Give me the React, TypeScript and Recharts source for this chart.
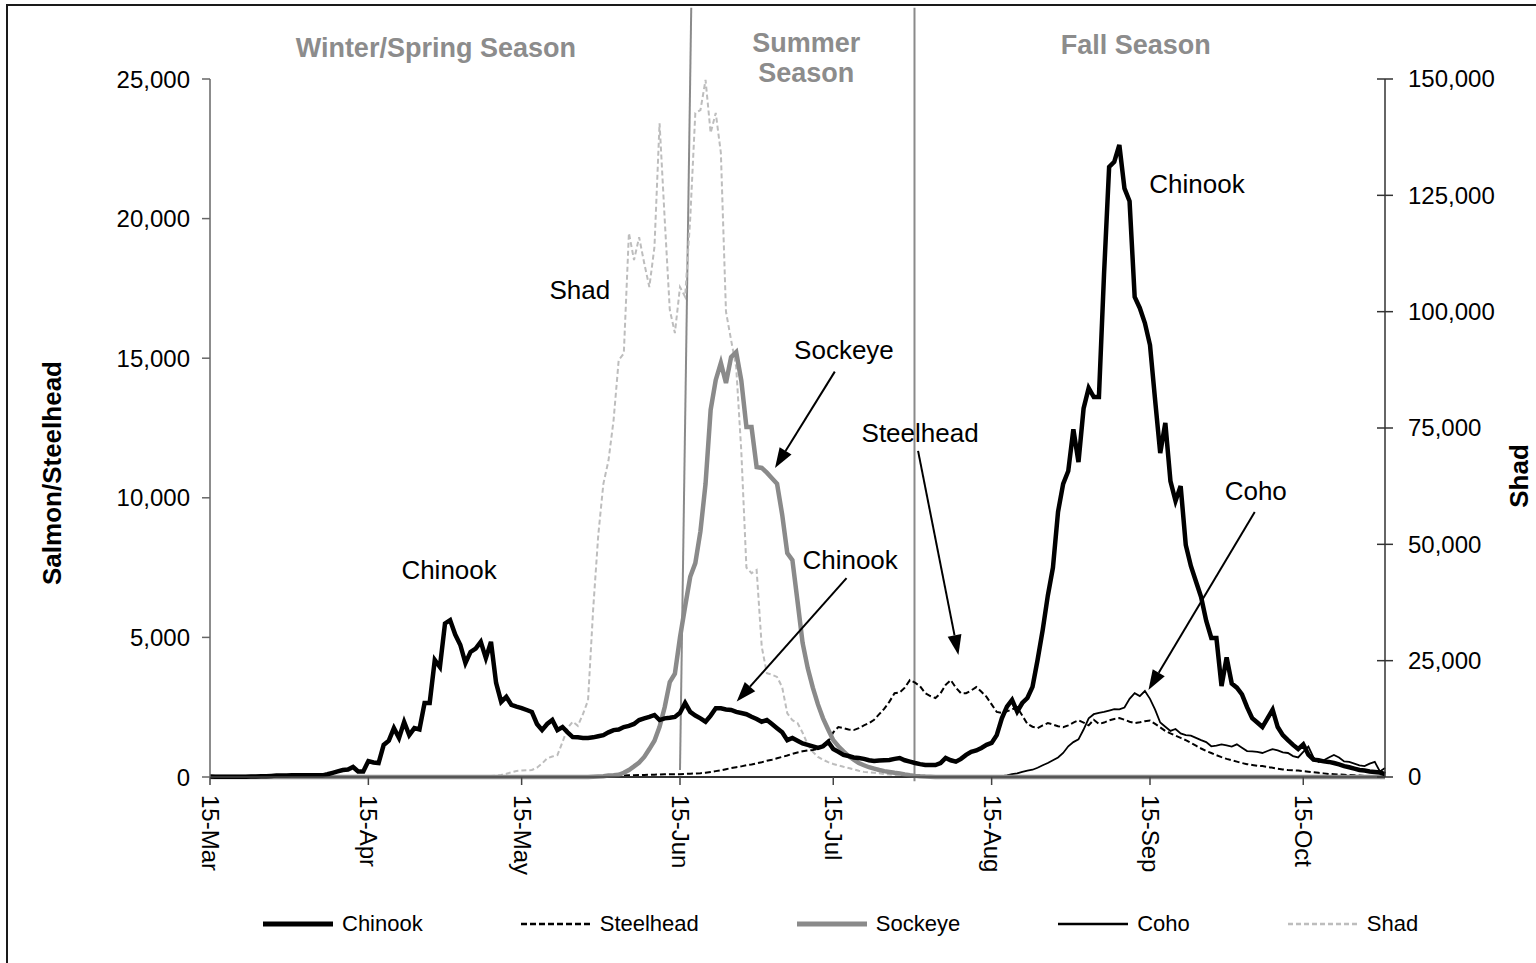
import { Line, LineChart, ReferenceDot, ReferenceLine, XAxis, YAxis } from "recharts";

const FONT = '"Liberation Sans", Arial, sans-serif';

// x axis: day index counted from 15-Mar (0) to 31-Oct (230)
const tickDays = [0, 31, 61, 92, 122, 153, 184, 214];
const tickLabels = ["15-Mar", "15-Apr", "15-May", "15-Jun", "15-Jul", "15-Aug", "15-Sep", "15-Oct"];
const leftTicks = [0, 5000, 10000, 15000, 20000, 25000];
const rightTicks = [0, 25000, 50000, 75000, 100000, 125000, 150000];

// daily counts, one value per day from 15-Mar
const chinook = [
  20, 10, 10, 10, 10, 10, 10, 10, 20, 20,
  30, 30, 40, 50, 50, 50, 60, 60, 60, 60,
  60, 60, 60, 100, 150, 200, 250, 270, 360, 200,
  200, 570, 520, 500, 1150, 1300, 1750, 1400, 1970, 1500,
  1750, 1700, 2650, 2650, 4190, 3940, 5500, 5620, 5100, 4730,
  4080, 4480, 4600, 4840, 4260, 4840, 3370, 2690, 2870, 2580,
  2520, 2470, 2400, 2330, 1900, 1680, 1900, 2040, 1680, 1790,
  1600, 1430, 1420, 1400, 1400, 1420, 1460, 1500, 1600, 1680,
  1700, 1790, 1830, 1900, 2040, 2100, 2150, 2220, 2040, 2100,
  2120, 2150, 2300, 2650, 2330, 2200, 2100, 1980, 2200, 2460,
  2460, 2420, 2400, 2330, 2290, 2250, 2160, 2080, 1980, 2040,
  1900, 1750, 1600, 1320, 1400, 1300, 1200, 1150, 1100, 1040,
  1100, 1260, 1000, 900, 790, 750, 700, 680, 650, 600,
  570, 590, 600, 610, 650, 680, 600, 550, 500, 460,
  430, 430, 430, 500, 680, 600, 550, 650, 790, 900,
  950, 1040, 1150, 1220, 1500, 2100, 2520, 2760, 2340, 2650,
  2830, 3230, 4200, 5270, 6500, 7500, 9500, 10500, 10960, 12450,
  11280, 13200, 13930, 13610, 13610, 18000, 21850, 22030, 22640, 21080,
  20620, 17190, 16800, 16260, 15470, 13500, 11600, 12680, 10600, 9890,
  10420, 8310, 7560, 7000, 6450, 5600, 4980, 4980, 3260, 4280,
  3350, 3200, 2960, 2500, 2110, 1950, 1790, 2100, 2410, 1790,
  1500, 1320, 1150, 1000, 1170, 800, 620, 600, 560, 540,
  500, 450, 390, 350, 300, 250, 230, 200, 180, 160,
  100,
];

const steelhead = [
  0, 0, 0, 0, 0, 0, 0, 0, 0, 0,
  0, 0, 0, 0, 0, 0, 0, 0, 0, 0,
  0, 0, 0, 0, 0, 0, 0, 0, 0, 0,
  0, 0, 0, 0, 0, 0, 0, 0, 0, 0,
  0, 0, 0, 0, 0, 0, 0, 0, 0, 0,
  0, 0, 0, 0, 0, 0, 0, 0, 0, 0,
  0, 0, 0, 0, 0, 0, 0, 10, 10, 10,
  10, 10, 15, 15, 15, 15, 20, 20, 30, 40,
  50, 55, 60, 65, 70, 75, 80, 85, 90, 95,
  100, 100, 100, 110, 120, 125, 135, 150, 180, 210,
  240, 280, 320, 350, 380, 420, 450, 490, 530, 580,
  620, 670, 720, 770, 830, 880, 920, 950, 970, 1000,
  1100, 1250, 1600, 1790, 1750, 1700, 1680, 1750, 1850, 1930,
  2050, 2250, 2450, 2700, 3000, 3030, 3200, 3470, 3380, 3250,
  3000, 2900, 2830, 3000, 3300, 3470, 3200, 3000, 3000, 3100,
  3220, 3050, 2870, 2600, 2330, 2300, 2350, 2420, 2500, 2200,
  1900, 1800, 1750, 1850, 1930, 1880, 1820, 1780, 1850, 1950,
  2030, 1950, 1850, 2050, 1900, 1950, 2030, 2080, 2110, 2050,
  1980, 1930, 1960, 2000, 2020, 1900, 1780, 1650, 1560, 1480,
  1400, 1320, 1220, 1120, 1020, 930, 860, 780, 710, 650,
  600, 550, 500, 460, 430, 400, 390, 360, 330, 300,
  270, 250, 240, 230, 210, 190, 170, 150, 130, 110,
  100, 90, 80, 70, 60, 50, 40, 30, 20, 10,
  10,
];

const sockeye = [
  0, 0, 0, 0, 0, 0, 0, 0, 0, 0,
  0, 0, 0, 0, 0, 0, 0, 0, 0, 0,
  0, 0, 0, 0, 0, 0, 0, 0, 0, 0,
  0, 0, 0, 0, 0, 0, 0, 0, 0, 0,
  0, 0, 0, 0, 0, 0, 0, 0, 0, 0,
  0, 0, 0, 0, 0, 0, 0, 0, 0, 0,
  0, 0, 0, 0, 0, 0, 0, 0, 0, 0,
  0, 0, 0, 0, 0, 10, 20, 30, 50, 60,
  80, 150, 250, 380, 520, 720, 1000, 1300, 1800, 2500,
  3400, 3700, 5000, 6100, 7170, 7660, 8800, 10500, 13150, 14220,
  14830, 14110, 15040, 15220, 14200, 12540, 12540, 11100, 11070, 10900,
  10700, 10500, 9400, 8020, 7770, 6300, 4800, 3900, 3200, 2600,
  2100, 1700, 1320, 1100, 920, 750, 620, 500, 420, 350,
  300, 250, 210, 180, 150, 130, 90, 60, 40, 25,
  15, 10, 0, 0, 0, 0, 0, 0, 0, 0,
  0, 0, 0, 0, 0, 0, 0, 0, 0, 0,
  0, 0, 0, 0, 0, 0, 0, 0, 0, 0,
  0, 0, 0, 0, 0, 0, 0, 0, 0, 0,
  0, 0, 0, 0, 0, 0, 0, 0, 0, 0,
  0, 0, 0, 0, 0, 0, 0, 0, 0, 0,
  0, 0, 0, 0, 0, 0, 0, 0, 0, 0,
  0, 0, 0, 0, 0, 0, 0, 0, 0, 0,
  0, 0, 0, 0, 0, 0, 0, 0, 0, 0,
  0,
];

const coho = [
  0, 0, 0, 0, 0, 0, 0, 0, 0, 0,
  0, 0, 0, 0, 0, 0, 0, 0, 0, 0,
  0, 0, 0, 0, 0, 0, 0, 0, 0, 0,
  0, 0, 0, 0, 0, 0, 0, 0, 0, 0,
  0, 0, 0, 0, 0, 0, 0, 0, 0, 0,
  0, 0, 0, 0, 0, 0, 0, 0, 0, 0,
  0, 0, 0, 0, 0, 0, 0, 0, 0, 0,
  0, 0, 0, 0, 0, 0, 0, 0, 0, 0,
  0, 0, 0, 0, 0, 0, 0, 0, 0, 0,
  0, 0, 0, 0, 0, 0, 0, 0, 0, 0,
  0, 0, 0, 0, 0, 0, 0, 0, 0, 0,
  0, 0, 0, 0, 0, 0, 0, 0, 0, 0,
  0, 0, 0, 0, 0, 0, 0, 0, 0, 0,
  0, 0, 0, 0, 0, 0, 0, 0, 0, 0,
  0, 0, 0, 0, 0, 0, 0, 0, 0, 0,
  0, 0, 0, 0, 10, 30, 60, 100, 130, 180,
  230, 260, 330, 420, 500, 600, 700, 860, 1100, 1250,
  1350, 1700, 2100, 2250, 2300, 2330, 2380, 2430, 2420, 2490,
  2800, 3000, 2900, 3080, 2800, 2410, 1950, 1800, 1650, 1720,
  1560, 1500, 1480, 1400, 1320, 1250, 1100, 1120, 1170, 1130,
  1090, 1170, 1050, 930, 920, 900, 860, 930, 1000, 950,
  880, 860, 750, 700, 900, 1090, 700, 540, 600, 700,
  790, 700, 560, 540, 480, 420, 390, 480, 540, 200,
  320,
];

// shad is read on the right axis
const shad = [
  0, 0, 0, 0, 0, 0, 0, 0, 0, 0,
  0, 0, 0, 0, 0, 0, 0, 0, 0, 0,
  0, 0, 0, 0, 0, 0, 0, 0, 0, 0,
  0, 0, 0, 0, 0, 0, 0, 0, 0, 0,
  0, 0, 0, 0, 0, 0, 0, 0, 0, 0,
  0, 0, 0, 100, 150, 200, 300, 430, 700, 1000,
  1300, 1400, 1450, 1500, 2000, 2900, 4000, 4400, 4700, 7500,
  10500, 11900, 11000, 13500, 16500, 36000, 52000, 63000, 68000, 76700,
  89600, 91000, 116900, 111100, 116000, 110400, 105300, 113900, 140500, 120000,
  100400, 95400, 105300, 103200, 120000, 142700, 143300, 149800, 138400, 142700,
  134100, 100000, 93900, 88100, 70000, 45000, 43800, 44500, 28000, 22300,
  22000, 21500, 19300, 13700, 12200, 11600, 9500, 7000, 5400, 4300,
  3700, 3200, 2800, 2500, 2200, 1930, 1650, 1350, 1100, 1000,
  900, 800, 650, 550, 450, 300, 200, 100, 50, 0,
  0, 0, 0, 0, 0, 0, 0, 0, 0, 0,
  0, 0, 0, 0, 0, 0, 0, 0, 0, 0,
  0, 0, 0, 0, 0, 0, 0, 0, 0, 0,
  0, 0, 0, 0, 0, 0, 0, 0, 0, 0,
  0, 0, 0, 0, 0, 0, 0, 0, 0, 0,
  0, 0, 0, 0, 0, 0, 0, 0, 0, 0,
  0, 0, 0, 0, 0, 0, 0, 0, 0, 0,
  0, 0, 0, 0, 0, 0, 0, 0, 0, 0,
  0, 0, 0, 0, 0, 0, 0, 0, 0, 0,
  0,
];

// season boundaries (day, left-axis value), drawn past the top of the plot
const seasonLines = [
  [{ x: 94.2, y: 27550 }, { x: 92, y: 250 }],
  [{ x: 137.9, y: 27550 }, { x: 137.9, y: -150 }],
];
const seasonLabels = [
  { day: 44.2, value: 26150, text: "Winter/Spring Season" },
  { day: 116.7, value: 26330, text: "Summer" },
  { day: 116.7, value: 25250, text: "Season" },
  { day: 181.2, value: 26250, text: "Fall Season" },
];

const notes = [
  { day: 46.8, value: 7410, text: "Chinook" },
  { day: 72.4, value: 17440, text: "Shad" },
  { day: 124.1, value: 15290, text: "Sockeye" },
  { day: 139, value: 12320, text: "Steelhead" },
  { day: 125.3, value: 7770, text: "Chinook" },
  { day: 204.7, value: 10240, text: "Coho" },
  { day: 193.2, value: 21240, text: "Chinook" },
];
const arrows = [
  [{ x: 122.3, y: 14520 }, { x: 110.6, y: 11070 }],
  [{ x: 124.6, y: 7120 }, { x: 103.1, y: 2700 }],
  [{ x: 138.6, y: 11680 }, { x: 146.5, y: 4370 }],
  [{ x: 204.5, y: 9490 }, { x: 183.7, y: 3120 }],
];

const series = [
  { key: "shad", name: "Shad", axis: "right", color: "#bdbdbd", width: 2, dash: "5 3" },
  { key: "coho", name: "Coho", axis: "left", color: "#000", width: 1.8, dash: undefined },
  { key: "steelhead", name: "Steelhead", axis: "left", color: "#000", width: 2, dash: "6 3" },
  { key: "sockeye", name: "Sockeye", axis: "left", color: "#8a8a8a", width: 4.5, dash: undefined },
  { key: "chinook", name: "Chinook", axis: "left", color: "#000", width: 4.5, dash: undefined },
];
const legendOrder = ["chinook", "steelhead", "sockeye", "coho", "shad"];

const data = chinook.map((v, i) => ({
  day: i,
  chinook: v,
  steelhead: steelhead[i],
  sockeye: sockeye[i],
  coho: coho[i],
  shad: shad[i],
}));

const fmt = (v: number) => v.toLocaleString("en-US");

function DateTick(props: any) {
  const { x, y, payload } = props;
  return (
    <text
      transform={`translate(${x},${y}) rotate(90)`}
      dy="0.33em"
      textAnchor="start"
      fontSize={24}
      fontFamily={FONT}
      fill="#000"
    >
      {tickLabels[tickDays.indexOf(payload.value)]}
    </text>
  );
}

function ShadTick(props: any) {
  const { x, y, payload } = props;
  const ax = x - 23;
  return (
    <g>
      <line x1={ax - 8} x2={ax + 8} y1={y} y2={y} stroke="#333" strokeWidth={1.5} />
      <text x={x} y={y} dy="0.35em" textAnchor="start" fontSize={24} fontFamily={FONT} fill="#000">
        {fmt(payload.value)}
      </text>
    </g>
  );
}

function Arrow(props: any) {
  const { x1, y1, x2, y2 } = props;
  const a = Math.atan2(y2 - y1, x2 - x1);
  const len = 20;
  const half = 7;
  const bx = x2 - len * Math.cos(a);
  const by = y2 - len * Math.sin(a);
  const px = -Math.sin(a) * half;
  const py = Math.cos(a) * half;
  return (
    <g>
      <line x1={x1} y1={y1} x2={bx} y2={by} stroke="#000" strokeWidth={2} />
      <polygon points={`${x2},${y2} ${bx + px},${by + py} ${bx - px},${by - py}`} fill="#000" />
    </g>
  );
}

function textShape(text: string, color: string, bold: boolean, size: number) {
  return (p: any) => (
    <text
      x={p.cx}
      y={p.cy}
      dy="0.36em"
      textAnchor="middle"
      fontSize={size}
      fontWeight={bold ? 700 : 400}
      fontFamily={FONT}
      fill={color}
    >
      {text}
    </text>
  );
}

function LegendSample({ s }: { s: (typeof series)[number] }) {
  return (
    <svg width={70} height={12} style={{ display: "block" }}>
      <line x1={0} x2={70} y1={6} y2={6} stroke={s.color} strokeWidth={s.width + 0.5} strokeDasharray={s.dash} />
    </svg>
  );
}

export default function App() {
  return (
    <div
      style={{
        position: "absolute",
        left: 0,
        top: 0,
        width: 1536,
        height: 963,
        overflow: "hidden",
        background: "#fff",
        fontFamily: FONT,
      }}
    >
      <div
        style={{
          position: "absolute",
          left: 6,
          top: 4,
          right: 0,
          bottom: 0,
          borderLeft: "2px solid #1a1a1a",
          borderTop: "2px solid #1a1a1a",
        }}
      />
      <div style={{ position: "absolute", left: 0, top: 0 }}>
        <LineChart width={1536} height={963} data={data} margin={{ top: 79, right: 0, bottom: 0, left: 0 }}>
          <XAxis
            dataKey="day"
            type="number"
            domain={[0, 230]}
            ticks={tickDays}
            interval={0}
            height={186}
            tickSize={8}
            tickMargin={10}
            tick={<DateTick />}
            axisLine={{ stroke: "#444", strokeWidth: 1.5 }}
            tickLine={{ stroke: "#444", strokeWidth: 1.5 }}
          />
          <YAxis
            yAxisId="left"
            domain={[0, 25000]}
            ticks={leftTicks}
            interval={0}
            width={210}
            tickSize={8}
            tickMargin={12}
            tickFormatter={fmt}
            tick={{ fontSize: 24, fill: "#000", fontFamily: FONT }}
            axisLine={{ stroke: "#666", strokeWidth: 1.5 }}
            tickLine={{ stroke: "#666", strokeWidth: 1.5 }}
          />
          <YAxis
            yAxisId="right"
            orientation="right"
            domain={[0, 150000]}
            ticks={rightTicks}
            interval={0}
            width={151}
            tickSize={8}
            tickMargin={15}
            tick={<ShadTick />}
            tickLine={false}
            axisLine={{ stroke: "#333", strokeWidth: 1.5 }}
          />
          {seasonLines.map((seg, i) => (
            <ReferenceLine
              key={`season-${i}`}
              yAxisId="left"
              segment={seg}
              ifOverflow="visible"
              stroke="#8a8a8a"
              strokeWidth={2}
            />
          ))}
          {series.map((s) => (
            <Line
              key={s.key}
              yAxisId={s.axis}
              dataKey={s.key}
              name={s.name}
              type="linear"
              stroke={s.color}
              strokeWidth={s.width}
              strokeDasharray={s.dash}
              dot={false}
              activeDot={false}
              isAnimationActive={false}
            />
          ))}
          {arrows.map((seg, i) => (
            <ReferenceLine key={`arrow-${i}`} yAxisId="left" segment={seg} ifOverflow="visible" shape={Arrow} />
          ))}
          {seasonLabels.map((l, i) => (
            <ReferenceDot
              key={`sl-${i}`}
              yAxisId="left"
              x={l.day}
              y={l.value}
              ifOverflow="visible"
              shape={textShape(l.text, "#8c8c8c", true, 27)}
            />
          ))}
          {notes.map((n, i) => (
            <ReferenceDot
              key={`note-${i}`}
              yAxisId="left"
              x={n.day}
              y={n.value}
              ifOverflow="visible"
              shape={textShape(n.text, "#000", false, 26)}
            />
          ))}
        </LineChart>
      </div>
      <svg
        width={1536}
        height={963}
        style={{ position: "absolute", left: 0, top: 0, pointerEvents: "none" }}
      >
        <text
          transform="translate(61,473) rotate(-90)"
          textAnchor="middle"
          fontSize={26}
          fontWeight={700}
          fontFamily={FONT}
          fill="#000"
        >
          Salmon/Steelhead
        </text>
        <text
          transform="translate(1528,476) rotate(-90)"
          textAnchor="middle"
          fontSize={26}
          fontWeight={700}
          fontFamily={FONT}
          fill="#000"
        >
          Shad
        </text>
      </svg>
      <div
        style={{
          position: "absolute",
          left: 263,
          top: 911,
          display: "flex",
          alignItems: "center",
          gap: 98,
          fontSize: 22,
          color: "#000",
        }}
      >
        {legendOrder.map((k) => {
          const s = series.find((x) => x.key === k)!;
          return (
            <div key={k} style={{ display: "flex", alignItems: "center", gap: 9 }}>
              <LegendSample s={s} />
              <span>{s.name}</span>
            </div>
          );
        })}
      </div>
    </div>
  );
}
